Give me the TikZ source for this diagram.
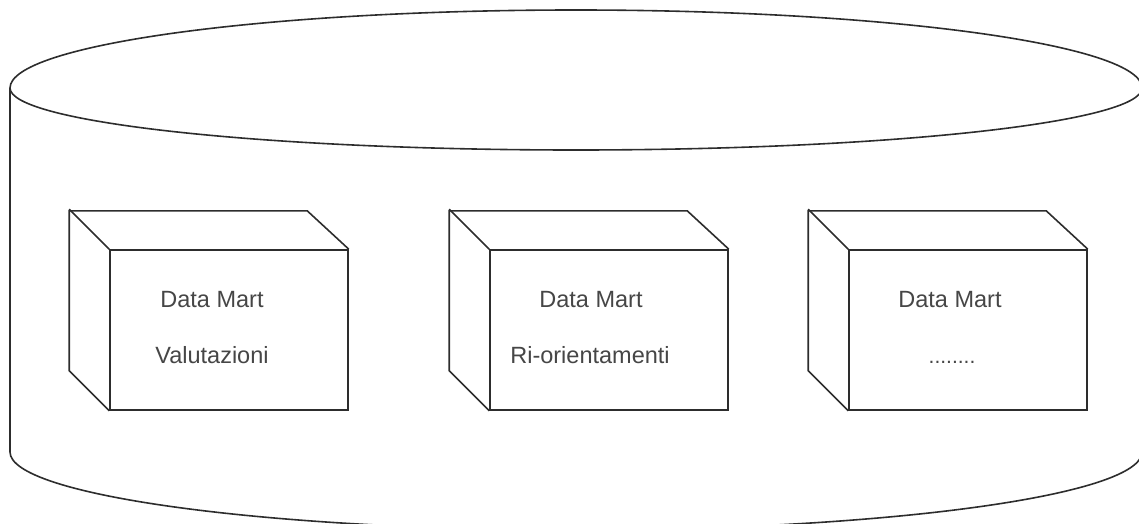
\documentclass[tikz,border=0pt]{standalone}
\usepackage{fontspec}
\setmainfont{Liberation Sans}
\definecolor{linec}{RGB}{45,45,45}
\definecolor{textc}{RGB}{70,70,70}
\tikzset{
  edge/.style={draw=linec, line width=1.6pt, line join=miter},
  front/.style={edge, rectangle, minimum width=238pt, minimum height=160pt, inner sep=0pt, fill=white},
  lbl/.style={text=textc, anchor=base, inner sep=0pt, font=\fontsize{23.5}{28}\selectfont},
  dots/.style={text=textc, anchor=base, inner sep=0pt, font=\fontsize{21}{26}\selectfont},
}
\begin{document}
\begin{tikzpicture}[x=1pt,y=1pt]
\useasboundingbox (0,0) rectangle (1139,-524);
\begin{scope}
\clip (0,0) rectangle (1139,-524);
% cylinder
\draw[edge] (10,-88) arc[start angle=180,end angle=0,x radius=566,y radius=78]
            arc[start angle=0,end angle=-180,x radius=566,y radius=62];
\draw[edge] (10,-88) -- (10,-452) arc[start angle=180,end angle=360,x radius=566,y radius=78] -- (1142,-88);
\end{scope}
% boxes
\foreach \n/\cx in {b1/229, b2/609, b3/968}{
  \node[front] (\n) at (\cx,-330) {};
  \draw[edge] (\n.south west) -- ++(-40,40) -- ++(0,160) -- ++(238,0) -- (\n.north east);
  \draw[edge] (\n.north west) -- ++(-40,40);
}
\node[lbl] (t1a) at (212,-307) {Data Mart};
\node[lbl] (t1b) at (212,-363) {Valutazioni};
\node[lbl] (t2a) at (591,-307) {Data Mart};
\node[lbl] (t2b) at (590,-363) {Ri-orientamenti};
\node[lbl] (t3a) at (950,-307) {Data Mart};
\node[dots] (t3b) at (952,-363) {........};
\end{tikzpicture}
\end{document}
